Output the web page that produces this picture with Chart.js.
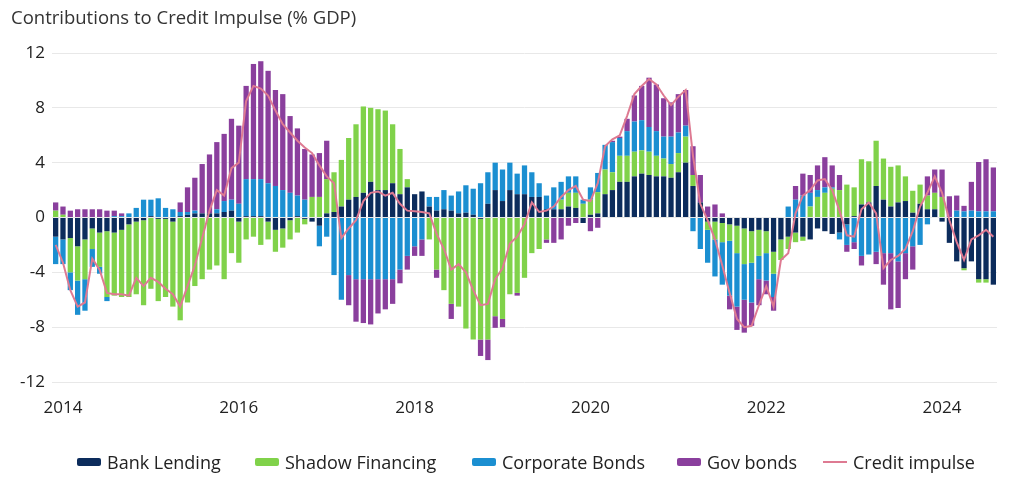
<!DOCTYPE html>
<html>
<head>
<meta charset="utf-8">
<script src="https://cdn.jsdelivr.net/npm/chart.js@4.4.1/dist/chart.umd.min.js"></script>
<style>
  body { margin: 0; background: #fff; font-family: "Open Sans", sans-serif; }
  #wrap { position: relative; width: 1021px; height: 477px; }
  #title { position: absolute; left: 11px; top: 4px; font-size: 18.5px; color: #333; }
  #legend { position: absolute; left: 0; top: 450px; width: 1021px; height: 26px; }
  .item { position: absolute; top: 0; display: flex; align-items: center; font-size: 18px; color: #222; white-space: nowrap; }
  .sw { width: 24px; height: 8px; border-radius: 2px; margin-right: 6px; }
  .ln { width: 24px; height: 2px; margin-right: 6px; }
</style>
</head>
<body>
<div id="wrap">
  <div id="title">Contributions to Credit Impulse (% GDP)</div>
  <canvas id="chart" width="1021" height="477"></canvas>
  <div id="legend"></div>
</div>
<script>
// monthly data, Dec 2013 .. Aug 2024 (one row per year)
const bankLending = [
  -1.4,
  -1.6, -1.5, -2.1, -1.6, -0.8, -1.1, -1.0, -1.1, -0.9, -0.5, -0.3, -0.2,
  0.1, -0.1, -0.1, -0.3, 0.1, 0.2, 0.3, 0.3, 0.3, 0.3, 0.4, 0.5,
  -0.3, 0.1, 0.1, 0.1, -0.3, -0.9, -0.8, -0.2, 0.1, -0.1, -0.3, -0.6,
  0.3, 0.4, 0.8, 1.3, 1.5, 1.8, 2.6, 2.0, 2.0, 2.5, 1.7, 2.2,
  1.7, 1.9, 0.8, 0.5, 0.6, 0.5, 0.3, 0.35, 0.2, -0.1, 1.0, 2.0,
  1.2, 2.0, 1.7, 1.7, 1.5, 1.5, 0.6, 0.6, 0.6, 0.8, 0.7, -0.4,
  0.2, 0.3, 1.7, 2.0, 2.6, 2.6, 3.0, 3.2, 3.1, 3.0, 3.0, 2.9,
  3.3, 4.0, 2.3, 1.1, -0.3, -0.3, -0.4, -0.5, -0.6, -0.8, -1.0, -0.9,
  -1.0, -2.5, -1.6, -1.4, -1.1, -1.4, -1.6, -0.8, -1.0, -1.2, -1.1, -0.5,
  0.1, 0.95, 1.1, 2.3, 1.3, 0.8, 1.1, 1.2, 0.35, 1.0, 0.6, 0.6,
  -0.3, -1.85, -3.2, -3.7, -3.2, -4.5, -4.5, -4.9
];
const shadowFinancing = [
  0.5,
  0.2, -2.5, -2.5, -2.9, -1.5, -2.5, -4.8, -4.6, -4.9, -5.3, -5.3, -6.2,
  -5.2, -6.0, -5.7, -6.2, -7.5, -6.2, -5.0, -4.5, -3.8, -3.5, -4.5, -2.6,
  -3.0, -1.6, -1.4, -2.0, -1.3, -1.6, -1.4, -1.4, -1.1, -0.4, 1.5, 1.5,
  2.5, 2.9, 3.4, 4.5, 5.3, 6.3, 5.4, 5.9, 5.8, 4.3, 3.3, 0.6,
  0, 0, -1.6, -3.8, -5.3, -6.3, -6.5, -8.1, -8.9, -8.8, -8.9, -7.2,
  -7.4, -5.6, -5.5, -4.4, -2.6, -2.3, -1.6, 0, 0.7, 1.0, 1.1, 1.0,
  1.1, 1.55, 1.8, 1.3, 1.9, 1.9, 1.8, 1.7, 1.7, 1.5, 1.3, 1.0,
  1.4, 1.9, 0.8, 0, -0.6, -1.3, -1.4, -1.2, -2.0, -2.6, -2.3, -1.9,
  -1.6, -1.6, -1.5, -0.9, -0.7, -0.3, 0.8, 1.5, 1.8, 2.1, 2.0, 2.4,
  2.1, 3.3, 3.0, 3.3, 3.0, 2.9, 2.7, 1.8, 1.6, 1.4, 1.0, 1.2,
  1.5, 0, 0, -0.15, 0, -0.25, -0.25, 0
];
const corporateBonds = [
  -2.0,
  -1.8, -1.3, -2.5, -2.3, -1.3, -0.5, -0.3, 0.1, 0.1, 0.3, 0.7, 1.3,
  1.2, 1.4, 0.7, 0.6, 0.3, 0.2, 0.2, 0, 0, 0.3, 0.8, 0.8,
  1.0, 2.7, 2.7, 2.7, 2.5, 2.3, 2.0, 1.8, 1.5, 1.3, 0, -1.5,
  -1.4, -4.2, -6.0, -4.2, -4.5, -4.5, -4.5, -4.5, -4.5, -4.5, -3.8, -2.8,
  -2.1, -1.6, 0.7, 1.0, 1.4, 1.1, 1.6, 2.0, 1.9, 2.5, 2.3, 2.0,
  2.3, 2.0, 1.5, 2.1, 1.8, 1.0, 1.0, 1.6, 1.3, 1.2, 1.2, 0.3,
  0.9, 1.4, 1.8, 2.2, 1.3, 1.8, 2.2, 2.2, 1.8, 1.8, 1.6, 2.0,
  1.5, 0.8, -1.0, -2.3, -2.4, -2.7, -3.1, -4.0, -3.9, -2.6, -2.9, -1.7,
  -2.0, -1.7, 0, 0.8, 1.3, 1.6, 1.0, 0.5, 0.4, 0.1, -0.5, -1.5,
  -1.8, -2.8, -2.7, -2.5, -2.6, -2.6, -3.2, -2.6, -2.1, -2.0, -0.5, 0,
  0, 0, 0.5, 0.45, 0.5, 0.45, 0.45, 0.45
];
const govBonds = [
  0.6,
  0.6, 0.5, 0.6, 0.6, 0.6, 0.6, 0.5, 0.4, 0.2, 0, 0, 0,
  0, 0, 0, 0, 0.7, 1.8, 2.4, 3.6, 4.3, 4.9, 4.9, 5.9,
  5.7, 6.8, 8.4, 8.6, 8.2, 7.0, 7.0, 5.6, 4.9, 3.7, 3.1, 3.2,
  2.8, 0, 0, -2.2, -3.1, -3.2, -3.3, -2.5, -2.2, -1.8, -1.0, -1.0,
  -0.7, -1.2, 0, -0.6, 0, -1.1, 0, 0, 0, -1.2, -1.5, -0.85,
  -0.6, 0, -0.2, 0, 0, 0, -0.25, -1.85, -1.6, -0.6, -0.4, 0,
  -1.0, -0.75, 0, 0.1, 0.1, 0.9, 1.9, 2.5, 3.6, 3.4, 2.8, 2.5,
  2.8, 2.6, 2.1, 2.0, 0.8, 0.95, 0.3, -1.0, -1.7, -2.4, -1.7, -1.9,
  -1.0, -1.0, 0, 0, 1.0, 1.6, 1.3, 1.8, 2.2, 1.6, 1.1, -0.5,
  -0.5, -0.7, 0, -0.9, -2.3, -4.1, -3.4, -1.9, -1.7, 0, 1.4, 1.7,
  2.0, 1.55, 1.1, 0.4, 2.1, 3.6, 3.8, 3.2
];
const creditImpulse = [
  -2.0,
  -3.3, -5.3, -6.5, -6.2, -3.0, -3.8, -5.5, -5.6, -5.6, -5.7, -4.4, -5.0,
  -4.4, -4.7, -5.2, -5.6, -6.5, -5.0, -3.5, -1.5, 0.5, 2.0, 1.6, 3.6,
  4.0, 8.5, 9.6, 9.4, 8.9, 7.8, 6.8, 6.2, 5.6, 5.1, 4.7, 3.8,
  3.0, 2.5, -1.5, -0.8, -0.2, 1.2, 1.8, 1.9, 1.6, 1.8, 1.0, 0.5,
  0.45, 0.4, 0.3, -1.2, -2.3, -3.8, -3.4, -4.0, -5.3, -6.4, -6.3, -4.5,
  -3.7, -1.9, -1.4, -0.5, 1.1, 0.4, 0.5, 0.8, 1.5, 2.0, 2.3, 1.3,
  1.2, 2.5, 5.2, 5.7, 6.0, 7.4, 9.0, 9.6, 10.1, 9.7, 8.9, 8.2,
  8.8, 9.3, 4.5, 1.0, -0.2, -1.6, -3.5, -5.5, -7.4, -8.0, -7.9, -6.4,
  -5.0, -6.5, -3.1, -2.6, 0.3, 1.6, 2.0, 2.7, 2.8, 2.0, 0.5, -1.3,
  -1.4, 0.6, 1.1, 0.3, -3.7, -3.1, -2.8, -2.3, -1.0, 0.8, 1.8, 3.0,
  1.8, -0.2, -1.8, -3.1, -1.6, -1.3, -0.9, -1.4
];

const tickYears = ['2014', '2016', '2018', '2020', '2022', '2024'];

// month labels starting Dec 2013
const months = [];
for (let k = 0; k < bankLending.length; k++) {
  const d = new Date(2013, 11 + k, 1);
  months.push(d.getFullYear() + '-' + String(d.getMonth() + 1).padStart(2, '0'));
}

const series = [
  { name: 'Bank Lending', data: bankLending, color: '#0c2c5c' },
  { name: 'Shadow Financing', data: shadowFinancing, color: '#80d24a' },
  { name: 'Corporate Bonds', data: corporateBonds, color: '#1b8fd1' },
  { name: 'Gov bonds', data: govBonds, color: '#8a3f9d' }
];
const lineColor = '#de7a92';

const datasets = series.map(s => ({
  type: 'bar',
  label: s.name,
  data: s.data,
  backgroundColor: s.color,
  borderWidth: 0,
  categoryPercentage: 1,
  barPercentage: 0.72,
  order: 1
}));
datasets.push({
  type: 'line',
  label: 'Credit impulse',
  data: creditImpulse,
  borderColor: lineColor,
  borderWidth: 2,
  pointRadius: 0,
  tension: 0,
  stack: 'impulse',
  order: 0
});

const tickFont = { family: '"Open Sans", sans-serif', size: 17 };

new Chart(document.getElementById('chart'), {
  data: { labels: months, datasets: datasets },
  options: {
    responsive: false,
    animation: false,
    layout: { padding: { top: 53, right: 24, bottom: 55, left: 0 } },
    plugins: { legend: { display: false }, tooltip: { enabled: false } },
    scales: {
      x: {
        stacked: true,
        grid: { display: false },
        border: { display: false },
        afterFit: (scale) => { scale.height = 40; },
        ticks: {
          autoSkip: false,
          maxRotation: 0,
          padding: 8,
          color: '#222',
          font: tickFont,
          callback: (val, idx) => {
            const m = months[idx];
            const y = m.slice(0, 4);
            return m.endsWith('-01') && tickYears.includes(y) ? y : '';
          }
        }
      },
      y: {
        stacked: true,
        min: -12,
        max: 12,
        afterFit: (scale) => { scale.width = 52; },
        grid: { color: '#e8e8e8', drawTicks: false },
        border: { display: false },
        ticks: { stepSize: 4, padding: 7, color: '#222', font: tickFont }
      }
    }
  }
});

// legend
const legendPos = [77, 255, 472, 677, 823];
const legend = document.getElementById('legend');
series.forEach((s, k) => {
  const el = document.createElement('div');
  el.className = 'item';
  el.style.left = legendPos[k] + 'px';
  el.innerHTML = '<span class="sw" style="background:' + s.color + '"></span>' + s.name;
  legend.appendChild(el);
});
const li = document.createElement('div');
li.className = 'item';
li.style.left = legendPos[4] + 'px';
li.innerHTML = '<span class="ln" style="background:' + lineColor + '"></span>Credit impulse';
legend.appendChild(li);
</script>
</body>
</html>
